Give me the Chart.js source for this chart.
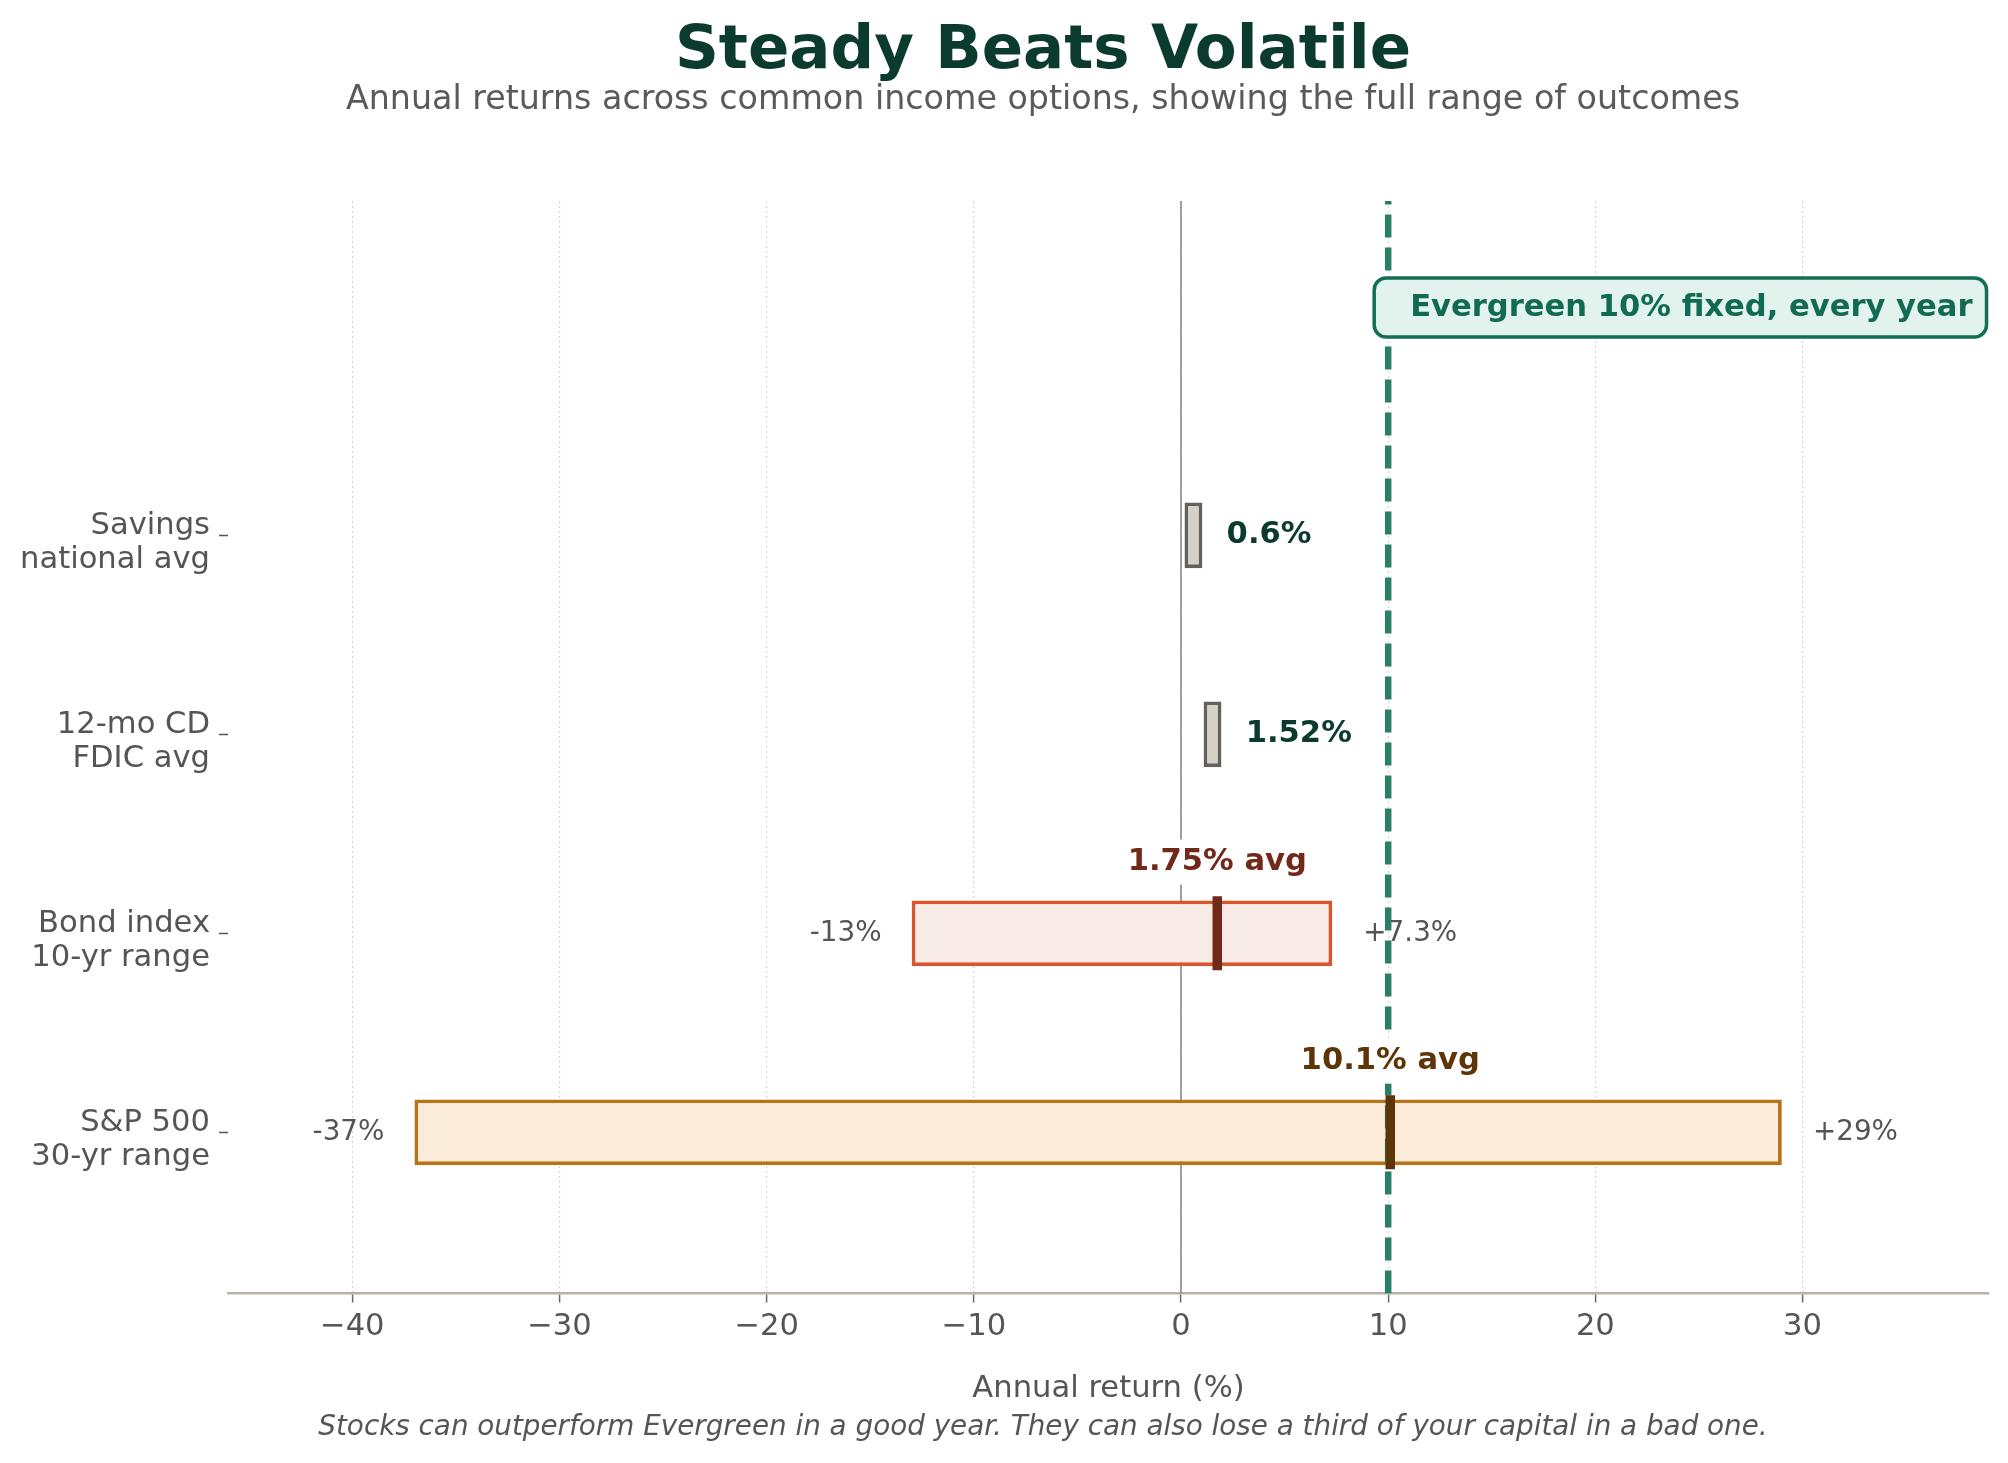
<!DOCTYPE html>
<html>
<head>
<meta charset="utf-8">
<title>Steady Beats Volatile</title>
<script src="https://cdn.jsdelivr.net/npm/chart.js@4.4.1/dist/chart.umd.min.js"></script>
<style>
    body { margin: 0; background: #fff; }
    canvas { display: block; }
</style>
</head>
<body>
<canvas id="returns-chart" width="2008" height="1463"></canvas>
<script>
// values (annual return, %)
const categories = [
    ['S&P 500', '30-yr range'],
    ['Bond index', '10-yr range'],
    ['12-mo CD', 'FDIC avg'],
    ['Savings', 'national avg']
];
const lowReturns = [-37, -13, null, null];
const highReturns = [29, 7.3, null, null];
const avgReturns = [10.1, 1.75, 1.52, 0.6];
const evergreenRate = 10;
const xTicks = [-40, -30, -20, -10, 0, 10, 20, 30];

const FONT = 'DejaVu Sans';
const fills = ['#faecd9', '#f9ebe6', '#d5d1c7', '#d5d1c7'];
const edges = ['#b8741a', '#d9552e', '#63615d', '#63615d'];
const avgColors = ['#5e3409', '#72291a'];
const rateMarkHalf = 0.43; // half width of the flat-rate boxes
const xMin = -46, xMax = 39, yMin = -0.81, yMax = 4.68;

// floating bars: real range where there is one, a thin box at the rate otherwise
const barData = categories.map((c, i) => ({
    y: i,
    x: lowReturns[i] !== null
        ? [lowReturns[i], highReturns[i]]
        : [avgReturns[i] - rateMarkHalf, avgReturns[i] + rateMarkHalf]
}));
const avgPoints = categories
    .map((c, i) => ({x: avgReturns[i], y: i}))
    .filter((p, i) => lowReturns[i] !== null);

const annotations = {
    id: 'annotations',
    beforeDatasetsDraw(chart) {
        const {ctx, chartArea, scales: {x}} = chart;
        const zx = x.getPixelForValue(0);
        ctx.save();
        ctx.strokeStyle = '#7c7c7c';
        ctx.lineWidth = 1.4;
        ctx.beginPath();
        ctx.moveTo(zx, chartArea.top);
        ctx.lineTo(zx, chartArea.bottom);
        ctx.stroke();
        ctx.restore();
    },
    afterDatasetDraw(chart, args) {
        if (args.index !== 0) return;
        const {ctx, scales: {x, y}} = chart;
        ctx.save();
        ctx.textBaseline = 'middle';
        categories.forEach((c, i) => {
            const yPix = y.getPixelForValue(i);
            if (lowReturns[i] !== null) {
                ctx.font = `27.8px ${FONT}`;
                ctx.fillStyle = '#555';
                ctx.textAlign = 'right';
                ctx.fillText(lowReturns[i] + '%', x.getPixelForValue(lowReturns[i] - 1.45), yPix);
                ctx.textAlign = 'left';
                ctx.fillText('+' + highReturns[i] + '%', x.getPixelForValue(highReturns[i] + 1.5), yPix);
            } else {
                ctx.font = `bold 30.6px ${FONT}`;
                ctx.fillStyle = '#0b3b2e';
                ctx.textAlign = 'left';
                ctx.fillText(avgReturns[i] + '%', x.getPixelForValue(avgReturns[i] + 1.6), yPix);
            }
        });
        ctx.restore();
    },
    afterDatasetsDraw(chart) {
        const {ctx, scales: {x, y}} = chart;
        ctx.save();
        ctx.textBaseline = 'middle';

        // "x% avg" labels sit on a white patch
        ctx.font = `bold 30.6px ${FONT}`;
        ctx.textAlign = 'center';
        categories.forEach((c, i) => {
            if (lowReturns[i] === null) return;
            const label = avgReturns[i] + '% avg';
            const cx = x.getPixelForValue(avgReturns[i]);
            const cy = y.getPixelForValue(i + 0.36);
            const w = ctx.measureText(label).width;
            ctx.fillStyle = '#fff';
            ctx.fillRect(cx - w / 2 - 6, cy - 22, w + 12, 45);
            ctx.fillStyle = avgColors[i];
            ctx.fillText(label, cx, cy);
        });

        // evergreen callout
        const text = `Evergreen ${evergreenRate}% fixed, every year`;
        const tw = ctx.measureText(text).width;
        const bx = x.getPixelForValue(evergreenRate) - 14;
        const cy = y.getPixelForValue(4.145);
        ctx.beginPath();
        ctx.roundRect(bx, cy - 29.5, tw + 50, 59, 12);
        ctx.fillStyle = '#e1f3ec';
        ctx.fill();
        ctx.lineWidth = 3.5;
        ctx.strokeStyle = '#126e55';
        ctx.stroke();
        ctx.fillStyle = '#116b52';
        ctx.textAlign = 'left';
        ctx.fillText(text, bx + 36, cy + 1);
        ctx.restore();
    },
    afterDraw(chart) {
        const {ctx, chartArea} = chart;
        ctx.save();
        ctx.textAlign = 'center';
        ctx.textBaseline = 'middle';
        ctx.fillStyle = '#0b3b2e';
        ctx.font = `bold 61px ${FONT}`;
        ctx.fillText('Steady Beats Volatile', 1043, 52);
        ctx.fillStyle = '#5a5a5a';
        ctx.font = `33.3px ${FONT}`;
        ctx.fillText('Annual returns across common income options, showing the full range of outcomes', 1043, 100);
        ctx.fillStyle = '#555';
        ctx.font = `30.6px ${FONT}`;
        ctx.fillText('Annual return (%)', (chartArea.left + chartArea.right) / 2, 1389);
        ctx.font = `italic 27.8px ${FONT}`;
        ctx.fillText('Stocks can outperform Evergreen in a good year. They can also lose a third of your capital in a bad one.', 1043, 1428);
        ctx.restore();
    }
};

new Chart(document.getElementById('returns-chart'), {
    type: 'bar',
    data: {
        datasets: [
            {
                type: 'bar',
                data: barData,
                backgroundColor: fills,
                borderColor: edges,
                borderWidth: 3.8,
                borderSkipped: false,
                categoryPercentage: 1,
                barPercentage: 0.33,
                order: 3
            },
            {
                type: 'line',
                data: [{x: evergreenRate, y: yMin}, {x: evergreenRate, y: yMax}],
                borderColor: '#2b7f67',
                borderWidth: 6.5,
                borderDash: [23, 10],
                pointRadius: 0,
                order: 2
            },
            {
                type: 'scatter',
                data: avgPoints,
                pointStyle: 'line',
                pointRotation: 90,
                pointRadius: 37,
                pointBorderWidth: 9.5,
                pointBorderColor: avgColors,
                order: 1
            }
        ]
    },
    options: {
        indexAxis: 'y',
        responsive: false,
        animation: false,
        devicePixelRatio: 1,
        events: [],
        layout: {
            autoPadding: false,
            padding: {top: 201, right: 19, bottom: 0, left: 0}
        },
        scales: {
            x: {
                type: 'linear',
                min: xMin,
                max: xMax,
                afterBuildTicks: s => { s.ticks = xTicks.map(v => ({value: v})); },
                afterFit: s => {
                    s.height = 1463 - 1293.5;
                    s.paddingLeft = 0;
                    s.paddingRight = 0;
                },
                ticks: {
                    callback: v => v < 0 ? '\u2212' + Math.abs(v) : String(v),
                    color: '#555',
                    font: {family: FONT, size: 30.6},
                    padding: 6,
                    maxRotation: 0,
                    autoSkip: false
                },
                grid: {
                    color: '#d6d6d6',
                    lineWidth: 1.2,
                    drawTicks: true,
                    tickLength: 9,
                    tickColor: '#666',
                    tickWidth: 1.5
                },
                border: {color: '#b7b1a6', width: 2.5, dash: [2, 3]}
            },
            y: {
                type: 'linear',
                min: yMin,
                max: yMax,
                offset: false,
                afterBuildTicks: s => { s.ticks = categories.map((c, i) => ({value: i})); },
                afterFit: s => {
                    s.width = 228;
                    s.paddingTop = 0;
                    s.paddingBottom = 0;
                },
                ticks: {
                    callback: v => categories[v],
                    color: '#555',
                    font: {family: FONT, size: 30.6, lineHeight: 1.1},
                    padding: 9,
                    labelOffset: 8,
                    autoSkip: false
                },
                grid: {
                    offset: false,
                    drawOnChartArea: false,
                    drawTicks: true,
                    tickLength: 9,
                    color: '#555',
                    tickColor: '#555',
                    tickWidth: 1.5
                },
                border: {display: false}
            }
        },
        plugins: {
            legend: {display: false},
            tooltip: {enabled: false}
        }
    },
    plugins: [annotations]
});
</script>
</body>
</html>
